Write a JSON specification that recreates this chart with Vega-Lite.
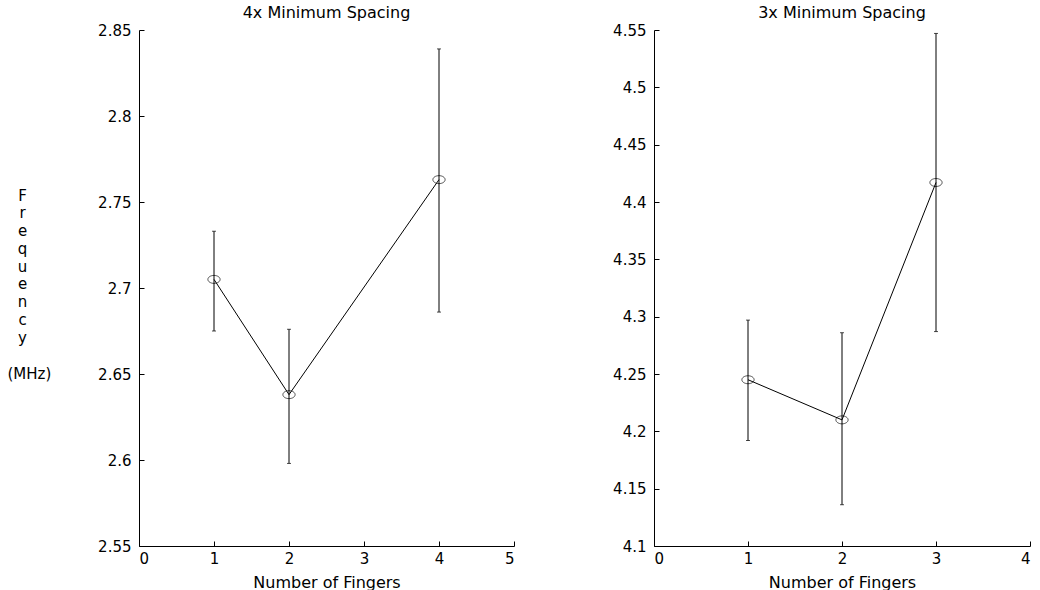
{
  "$schema": "https://vega.github.io/schema/vega-lite/v6.json",
  "background": "white",
  "padding": {"left": 7, "top": 5, "right": 0, "bottom": 0},
  "bounds": "flush",
  "spacing": 140,
  "config": {
    "font": "DejaVu Sans",
    "view": {"stroke": null},
    "axis": {
      "domainColor": "black", "tickColor": "black", "labelColor": "black", "titleColor": "black",
      "grid": false, "labelFont": "DejaVu Sans", "titleFont": "DejaVu Sans",
      "labelFontSize": 15, "titleFontSize": 16, "titleFontWeight": "normal",
      "tickSize": -5, "domainWidth": 1, "tickWidth": 1
    },
    "axisY": {"labelPadding": 13},
    "axisX": {"labelPadding": 10, "titlePadding": 8},
    "title": {"fontSize": 16, "fontWeight": "normal", "font": "DejaVu Sans", "color": "black", "offset": 2}
  },
  "datasets": {
    "a": [
      {"fingers": 1, "freq": 2.705, "lo": 2.675, "hi": 2.733},
      {"fingers": 2, "freq": 2.638, "lo": 2.598, "hi": 2.676},
      {"fingers": 4, "freq": 2.763, "lo": 2.686, "hi": 2.839}
    ],
    "b": [
      {"fingers": 1, "freq": 4.245, "lo": 4.192, "hi": 4.297},
      {"fingers": 2, "freq": 4.210, "lo": 4.136, "hi": 4.286},
      {"fingers": 3, "freq": 4.417, "lo": 4.287, "hi": 4.547}
    ]
  },
  "hconcat": [
    {
      "width": 375, "height": 516,
      "title": "4x Minimum Spacing",
      "data": {"name": "a"},
      "resolve": {"scale": {"y": "shared"}, "axis": {"y": "independent"}},
      "encoding": {
        "x": {"field": "fingers", "type": "quantitative", "scale": {"domain": [0, 5], "nice": false},
              "axis": {"title": "Number of Fingers", "values": [0, 1, 2, 3, 4, 5], "format": "d"}}
      },
      "layer": [
        {"mark": {"type": "rule", "color": "black", "strokeWidth": 1},
         "encoding": {"y": {"field": "lo", "type": "quantitative", "scale": {"domain": [2.55, 2.85], "nice": false},
                            "axis": {"orient": "left", "title": ["F","r","e","q","u","e","n","c","y"], "values": [2.55, 2.6, 2.65, 2.7, 2.75, 2.8, 2.85], "format": ".3~g",
                                     "titleFontSize": 15, "titleAngle": 0, "titleAlign": "center", "titleBaseline": "top", "titleLineHeight": 17.75, "titleX": -117, "titleY": 158}},
                      "y2": {"field": "hi"}}},
        {"mark": {"type": "tick", "color": "black", "orient": "horizontal", "size": 4, "thickness": 1},
         "encoding": {"y": {"field": "lo", "type": "quantitative", "axis": null}}},
        {"mark": {"type": "tick", "color": "black", "orient": "horizontal", "size": 4, "thickness": 1},
         "encoding": {"y": {"field": "hi", "type": "quantitative", "axis": null}}},
        {"mark": {"type": "line", "color": "black", "strokeWidth": 1},
         "encoding": {"y": {"field": "freq", "type": "quantitative",
                            "axis": {"orient": "left", "title": "(MHz)", "labels": false, "ticks": false, "domain": false,
                                     "titleFontSize": 15, "titleAngle": 0, "titleAlign": "left", "titleBaseline": "middle", "titleX": -132, "titleY": 343}}}},
        {"mark": {"type": "point", "shape": "M -1 0 A 1 0.65 0 1 1 1 0 A 1 0.65 0 1 1 -1 0 Z", "filled": false, "color": "black", "strokeWidth": 1, "size": 150},
         "encoding": {"y": {"field": "freq", "type": "quantitative", "axis": null}}}
      ]
    },
    {
      "width": 376, "height": 516,
      "title": "3x Minimum Spacing",
      "data": {"name": "b"},
      "encoding": {
        "x": {"field": "fingers", "type": "quantitative", "scale": {"domain": [0, 4], "nice": false},
              "axis": {"title": "Number of Fingers", "values": [0, 1, 2, 3, 4], "format": "d"}}
      },
      "layer": [
        {"mark": {"type": "rule", "color": "black", "strokeWidth": 1},
         "encoding": {"y": {"field": "lo", "type": "quantitative", "scale": {"domain": [4.1, 4.55], "nice": false},
                            "axis": {"title": null, "values": [4.1, 4.15, 4.2, 4.25, 4.3, 4.35, 4.4, 4.45, 4.5, 4.55], "format": ".3~g"}},
                      "y2": {"field": "hi"}}},
        {"mark": {"type": "tick", "color": "black", "orient": "horizontal", "size": 4, "thickness": 1},
         "encoding": {"y": {"field": "lo", "type": "quantitative"}}},
        {"mark": {"type": "tick", "color": "black", "orient": "horizontal", "size": 4, "thickness": 1},
         "encoding": {"y": {"field": "hi", "type": "quantitative"}}},
        {"mark": {"type": "line", "color": "black", "strokeWidth": 1},
         "encoding": {"y": {"field": "freq", "type": "quantitative"}}},
        {"mark": {"type": "point", "shape": "M -1 0 A 1 0.65 0 1 1 1 0 A 1 0.65 0 1 1 -1 0 Z", "filled": false, "color": "black", "strokeWidth": 1, "size": 150},
         "encoding": {"y": {"field": "freq", "type": "quantitative"}}}
      ]
    }
  ]
}
